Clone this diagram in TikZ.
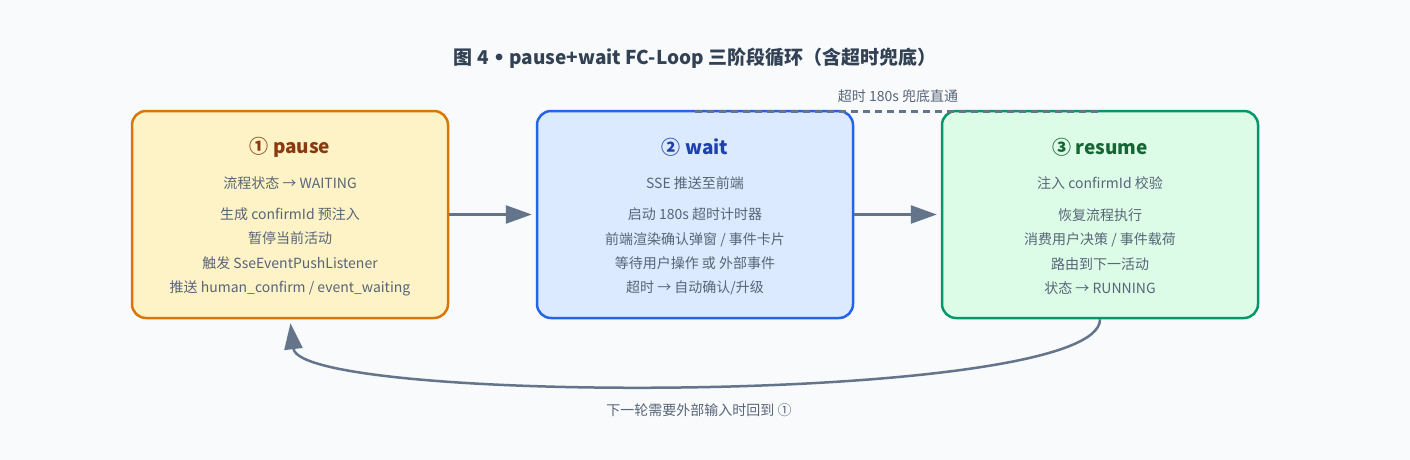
\documentclass[tikz,border=0pt]{standalone}
\usepackage{fontspec}
\setmainfont{Noto Sans CJK SC}
\newfontfamily\dotfont{DejaVu Sans}
\usetikzlibrary{positioning,arrows.meta}

\definecolor{pageBg}{HTML}{F8FAFC}
\definecolor{titleInk}{HTML}{334155}
\definecolor{noteInk}{HTML}{586577}
\definecolor{wireGray}{HTML}{64748B}
\definecolor{pauseFill}{HTML}{FEF3C7}
\definecolor{pauseLine}{HTML}{D97706}
\definecolor{pauseInk}{HTML}{8A3A10}
\definecolor{waitFill}{HTML}{DBEAFE}
\definecolor{waitLine}{HTML}{2563EB}
\definecolor{waitInk}{HTML}{1E40AF}
\definecolor{resumeFill}{HTML}{DCFCE7}
\definecolor{resumeLine}{HTML}{059669}
\definecolor{resumeInk}{HTML}{166534}

\begin{document}
\begin{tikzpicture}[
    x=1pt,y=-1pt,
    font=\fontsize{14}{24.3}\selectfont,
    node distance=86.5pt,
    stage/.style={rectangle,draw,line width=2.5pt,rounded corners=14pt,minimum width=316pt,minimum height=207pt},
    head/.style={font=\fontsize{19}{22}\selectfont\bfseries},
    note/.style={text=noteInk,align=center},
    small/.style={text=noteInk,font=\fontsize{14}{16}\selectfont},
    flow/.style={draw=wireGray,line width=2.5pt,shorten >=4pt,-{Triangle[length=26pt,width=18pt]}},
    bypass/.style={draw=wireGray,line width=2.8pt,dash pattern=on 7pt off 5pt}
  ]
  \useasboundingbox[fill=pageBg] (0,0) rectangle (1410,460);

  \node(title) [text=titleInk,font=\fontsize{19}{22}\selectfont\bfseries] at (695,58) {图 4 {\dotfont•} pause+wait FC-Loop 三阶段循环（含超时兜底）};

  \node(b1) [stage,draw=pauseLine,fill=pauseFill] at (290,214.5) {};
  \node(h1) [head,text=pauseInk] at (b1.north) [yshift=-38pt] {① pause};
  \node(f1) [note] at (b1.north) [yshift=-73pt] {流程状态 → WAITING};
  \node(n1) [note] at (b1.north) [yshift=-142pt] {生成 confirmId 预注入\\暂停当前活动\\触发 SseEventPushListener\\推送 human\_confirm / event\_waiting};

  \node(b2) [stage,draw=waitLine,fill=waitFill,right=of b1] {};
  \node(h2) [head,text=waitInk] at (b2.north) [yshift=-38pt] {② wait};
  \node(f2) [note] at (b2.north) [yshift=-73pt] {SSE 推送至前端};
  \node(n2) [note] at (b2.north) [yshift=-142pt] {启动 180s 超时计时器\\前端渲染确认弹窗 / 事件卡片\\等待用户操作 或 外部事件\\超时 → 自动确认/升级};

  \node(b3) [stage,draw=resumeLine,fill=resumeFill,right=of b2] {};
  \node(h3) [head,text=resumeInk] at (b3.north) [yshift=-38pt] {③ resume};
  \node(f3) [note] at (b3.north) [yshift=-73pt] {注入 confirmId 校验};
  \node(n3) [note] at (b3.north) [yshift=-142pt] {恢复流程执行\\消费用户决策 / 事件载荷\\路由到下一活动\\状态 → RUNNING};

  % stage to stage
  \draw[flow] (b1) -- (b2);
  \draw[flow] (b2) -- (b3);

  % timeout bypass
  \draw[bypass] ([yshift=-1.5pt]b2.north) -- ([yshift=-1.5pt]b3.north);
  \node(t1) [small] at (898,96) {超时 180s 兜底直通};

  % back to pause
  \draw[flow] (b3.south) .. controls (1101,405) and (300,405) .. (b1.south);
  \node(t2) [small] at (699,410) {下一轮需要外部输入时回到 ①};

\end{tikzpicture}
\end{document}
